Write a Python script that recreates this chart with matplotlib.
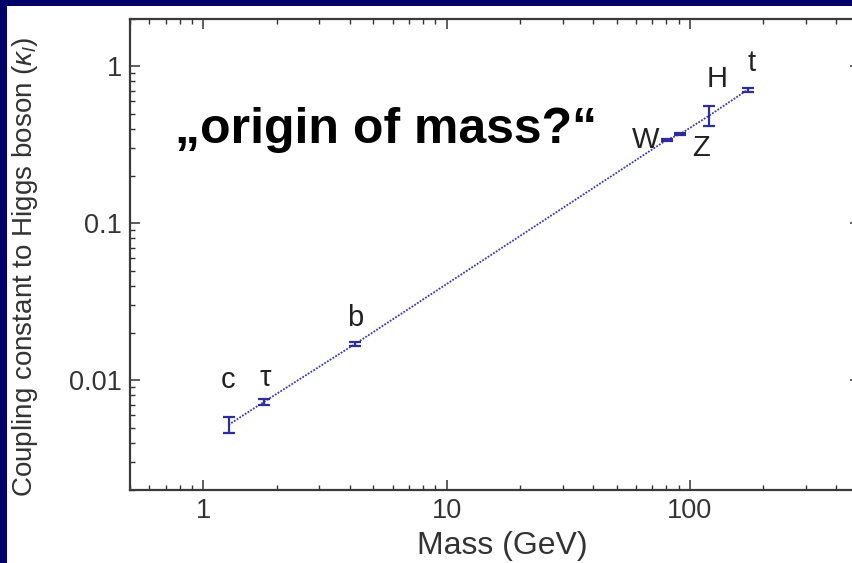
import matplotlib
matplotlib.use("Agg")
import matplotlib.pyplot as plt
from matplotlib.patches import Rectangle

# Particle masses (GeV) and their coupling constants to the Higgs boson
particles = ["c", "τ", "b", "W", "Z", "H", "t"]
mass = [1.27, 1.78, 4.2, 80.4, 91.2, 120, 173]
kappa = [0.0052, 0.0073, 0.017, 0.34, 0.37, 0.485, 0.71]
kappa_err = [0.0006, 0.0003, 0.0005, 0.006, 0.005, 0.07, 0.02]

# Label offsets (points) relative to each data point
label_offset = {"c": (0, 32), "τ": (1, 17), "b": (0, 19), "W": (-15, 0),
                "Z": (15, -10), "H": (6, 26), "t": (3, 19)}

x_ticks = [1, 10, 100]
x_tick_labels = ["1", "10", "100"]
y_ticks = [0.01, 0.1, 1]
y_tick_labels = ["0.01", "0.1", "1"]

plt.rcParams["font.family"] = ["Liberation Sans", "DejaVu Sans"]
plt.rcParams["mathtext.fontset"] = "custom"
plt.rcParams["mathtext.rm"] = "Liberation Sans"
plt.rcParams["mathtext.it"] = "Liberation Sans:italic"

navy = "#000068"
ink = "#333333"
blue = "#2d2d9e"

fig = plt.figure(figsize=(8.53, 5.63), dpi=100, facecolor=navy)
# White slide panel behind the axes
fig.patches.append(Rectangle((7 / 853, 0), 1, (563 - 6) / 563,
                             transform=fig.transFigure, facecolor="white",
                             edgecolor="none", zorder=-10))

ax = fig.add_axes([130 / 853, (563 - 490) / 563, 730 / 853, 471 / 563])
ax.set_facecolor("white")
ax.set_xscale("log")
ax.set_yscale("log")
ax.set_xlim(0.5, 500)
ax.set_ylim(0.002, 2)

# Fit line through the points, then the error bars on top
ax.plot(mass, kappa, linestyle=(0, (1, 0.8)), lw=1.3, color="#3838b4", zorder=2)
ax.errorbar(mass, kappa, yerr=kappa_err, fmt="none", ecolor=blue,
            elinewidth=1.6, capsize=4, capthick=1.6, zorder=3)

for name, m, k in zip(particles, mass, kappa):
    ax.annotate(name, (m, k), xytext=label_offset[name], textcoords="offset points",
                ha="center", va="center", fontsize=21, color="#222222")

ax.text(0.062, 0.765, "„origin of mass?“", transform=ax.transAxes,
        fontsize=36, fontweight="bold", color="black", ha="left", va="center")

ax.set_xticks(x_ticks)
ax.set_xticklabels(x_tick_labels)
ax.set_yticks(y_ticks)
ax.set_yticklabels(y_tick_labels)

ax.tick_params(which="both", direction="in", top=True, right=True, colors=ink)
ax.tick_params(which="major", length=7, width=1.1, labelsize=19.5)
ax.tick_params(which="minor", length=3.5, width=1.0)
ax.tick_params(axis="x", which="major", pad=6)
ax.tick_params(axis="y", which="major", pad=6)

for spine in ax.spines.values():
    spine.set_linewidth(1.6)
    spine.set_color("#3a3a3a")

ax.set_xlabel("Mass (GeV)", fontsize=23, color=ink)
ax.xaxis.set_label_coords(0.51, -0.087)
ax.set_ylabel(r"Coupling constant to Higgs boson ($\kappa_l$)", fontsize=20,
              color=ink)
ax.yaxis.set_label_coords(-0.123, 0.475)

fig.savefig("out.png", dpi=100, facecolor=navy)
